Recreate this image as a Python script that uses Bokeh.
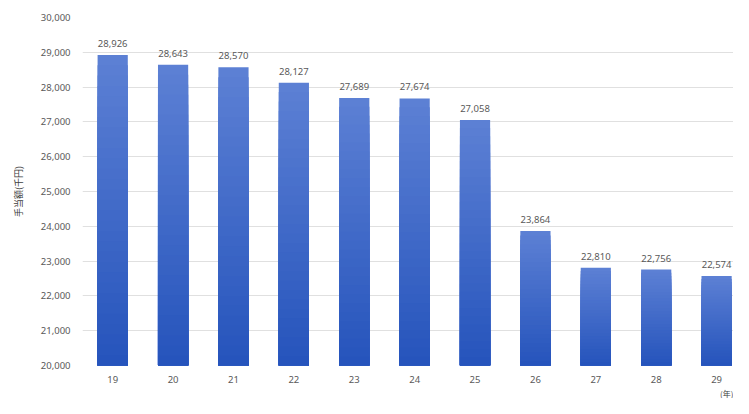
from bokeh.plotting import figure
from bokeh.models import Range1d, FixedTicker, NumeralTickFormatter, ColumnDataSource, Title
from bokeh.embed import file_html
from bokeh.resources import INLINE
from bokeh.core.properties import value

years = [19, 20, 21, 22, 23, 24, 25, 26, 27, 28, 29]
amounts = [28926, 28643, 28570, 28127, 27689, 27674, 27058, 23864, 22810, 22756, 22574]
y_ticks = [20000, 21000, 22000, 23000, 24000, 25000, 26000, 27000, 28000, 29000, 30000]
y_min, y_max = 20000, 30000

p = figure(width=733, height=398, output_backend="svg", toolbar_location=None,
           x_range=Range1d(18.5, 29.28), y_range=Range1d(y_min, y_max),
           min_border_left=82, min_border_right=0, min_border_top=17, min_border_bottom=0)
p.outline_line_color = None
p.background_fill_color = "white"

# gradient bars: overlapping bars, each shorter one darker, light at top -> dark at bottom
top_rgb = (92, 128, 212)
bot_rgb = (38, 84, 188)
N = 30
for i in range(N):
    frac = 1 - i / N
    t = 1 - i / (N - 1)
    c = tuple(int(round(bot_rgb[k] + (top_rgb[k] - bot_rgb[k]) * t)) for k in range(3))
    col = "#%02x%02x%02x" % c
    tops = [y_min + (a - y_min) * frac for a in amounts]
    p.vbar(x=years, bottom=y_min, top=tops, width=0.5, fill_color=col, line_color=None)

src = ColumnDataSource(dict(x=years, y=amounts, t=[f"{a:,}" for a in amounts]))
p.text(x="x", y="y", text="t", source=src, text_align="center", text_baseline="bottom",
       y_offset=-8, text_font=value("Noto Sans"), text_font_size="9.5px", text_color="#595959")

p.xaxis.ticker = FixedTicker(ticks=years)
p.yaxis.ticker = FixedTicker(ticks=y_ticks)
p.yaxis.formatter = NumeralTickFormatter(format="0,0")
for ax in (p.xaxis[0], p.yaxis[0]):
    ax.axis_line_color = None
    ax.major_tick_line_color = None
    ax.minor_tick_line_color = None
    ax.major_label_text_font = "Noto Sans"
    ax.major_label_text_font_size = "9.5px"
    ax.major_label_text_color = "#595959"
p.xaxis.major_label_standoff = 4
p.yaxis.major_label_standoff = 6
p.yaxis.axis_label = "手当額(千円)"
p.yaxis.axis_label_text_font = "Noto Sans CJK JP"
p.yaxis.axis_label_text_font_size = "9px"
p.yaxis.axis_label_text_font_style = "normal"
p.yaxis.axis_label_text_color = "#404040"
p.yaxis.axis_label_standoff = 13
p.xgrid.grid_line_color = None
p.ygrid.grid_line_color = "#e0e0e0"
p.ygrid.grid_line_width = 1

p.add_layout(Title(text="(年)", align="right", text_font="Noto Sans CJK JP",
                   text_font_size="8px", text_font_style="normal", text_color="#404040",
                   standoff=0, offset=0), "below")

open("out.html", "w").write(file_html(p, INLINE))
